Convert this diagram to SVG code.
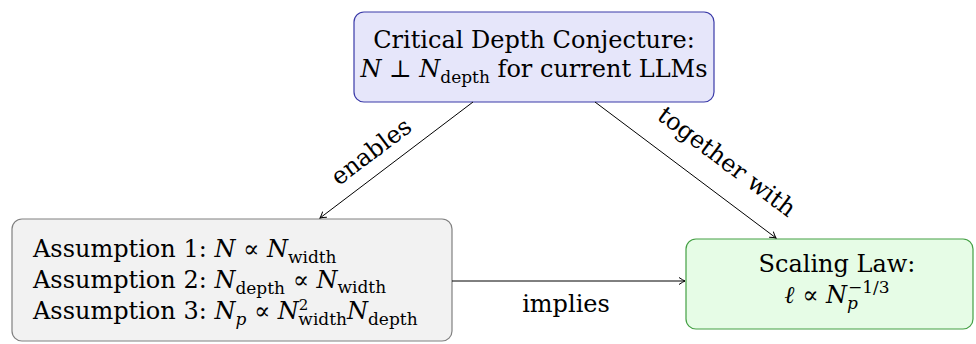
<svg xmlns="http://www.w3.org/2000/svg" width="976" height="344" viewBox="0 0 976 344">
<defs>
<style>
text{font-family:"DejaVu Serif","Liberation Serif",serif;font-size:24px;fill:#000}
.m{font-style:italic}
.s{font-size:17px}
.t{font-size:15px}
.box{stroke-width:1.2}
.edge{stroke:#000;stroke-width:1;fill:none;marker-end:url(#ah)}
</style>
<marker id="ah" viewBox="-8 -5 10 10" refX="0" refY="0" markerWidth="10" markerHeight="10" markerUnits="userSpaceOnUse" orient="auto">
<path d="M-6,-3.5 Q-2,-0.8 0,0 Q-2,0.8 -6,3.5" fill="none" stroke="#000" stroke-width="1"/>
</marker>
</defs>
<rect width="976" height="344" fill="#fff"/>
<g id="conjecture">
<rect class="box" x="354" y="12" width="360" height="90" rx="10" fill="#e6e6fa" stroke="#3a3aa8"/>
<text x="534" y="48" text-anchor="middle">Critical Depth Conjecture:</text>
<text x="534" y="77" text-anchor="middle"><tspan class="m">N</tspan> ⊥ <tspan class="m">N</tspan><tspan class="s" dy="6">depth</tspan><tspan dy="-6"> for current LLMs</tspan></text>
</g>
<g id="assumptions">
<rect class="box" x="12" y="219" width="440" height="122" rx="10" fill="#f2f2f2" stroke="#808080"/>
<text x="33" y="257">Assumption 1: <tspan class="m">N</tspan> ∝ <tspan class="m">N</tspan><tspan class="s" dy="6">width</tspan></text>
<text x="33" y="288">Assumption 2: <tspan class="m">N</tspan><tspan class="s" dy="6">depth</tspan><tspan dy="-6"> ∝ </tspan><tspan class="m">N</tspan><tspan class="s" dy="5">width</tspan></text>
<text x="33" y="319">Assumption 3: <tspan class="m">N</tspan><tspan class="s m" dy="6">p</tspan><tspan dy="-6"> ∝ </tspan><tspan class="m">N</tspan><tspan class="t" dy="-9">2</tspan><tspan class="s" dx="-10" dy="15">width</tspan><tspan class="m" dy="-6">N</tspan><tspan class="s" dy="6">depth</tspan></text>
</g>
<g id="scaling">
<rect class="box" x="686" y="239" width="287" height="90" rx="10" fill="#e6fce6" stroke="#44a044"/>
<text x="837" y="272" text-anchor="middle">Scaling Law:</text>
<text x="837" y="303" text-anchor="middle"><tspan class="m">ℓ</tspan> ∝ <tspan class="m">N</tspan><tspan class="s m" dy="6">p</tspan><tspan class="s" dx="-10" dy="-16">−1/3</tspan></text>
</g>
<g id="connectors">
<path class="edge" d="M473,102 L320,218"/>
<path class="edge" d="M595,102 L776,238"/>
<path class="edge" d="M452,281 L685,281"/>
<text x="376" y="158" text-anchor="middle" transform="rotate(-37 376 158)">enables</text>
<text x="722" y="168" text-anchor="middle" transform="rotate(37 722 168)">together with</text>
<text x="566" y="312" text-anchor="middle">implies</text>
</g>
</svg>
